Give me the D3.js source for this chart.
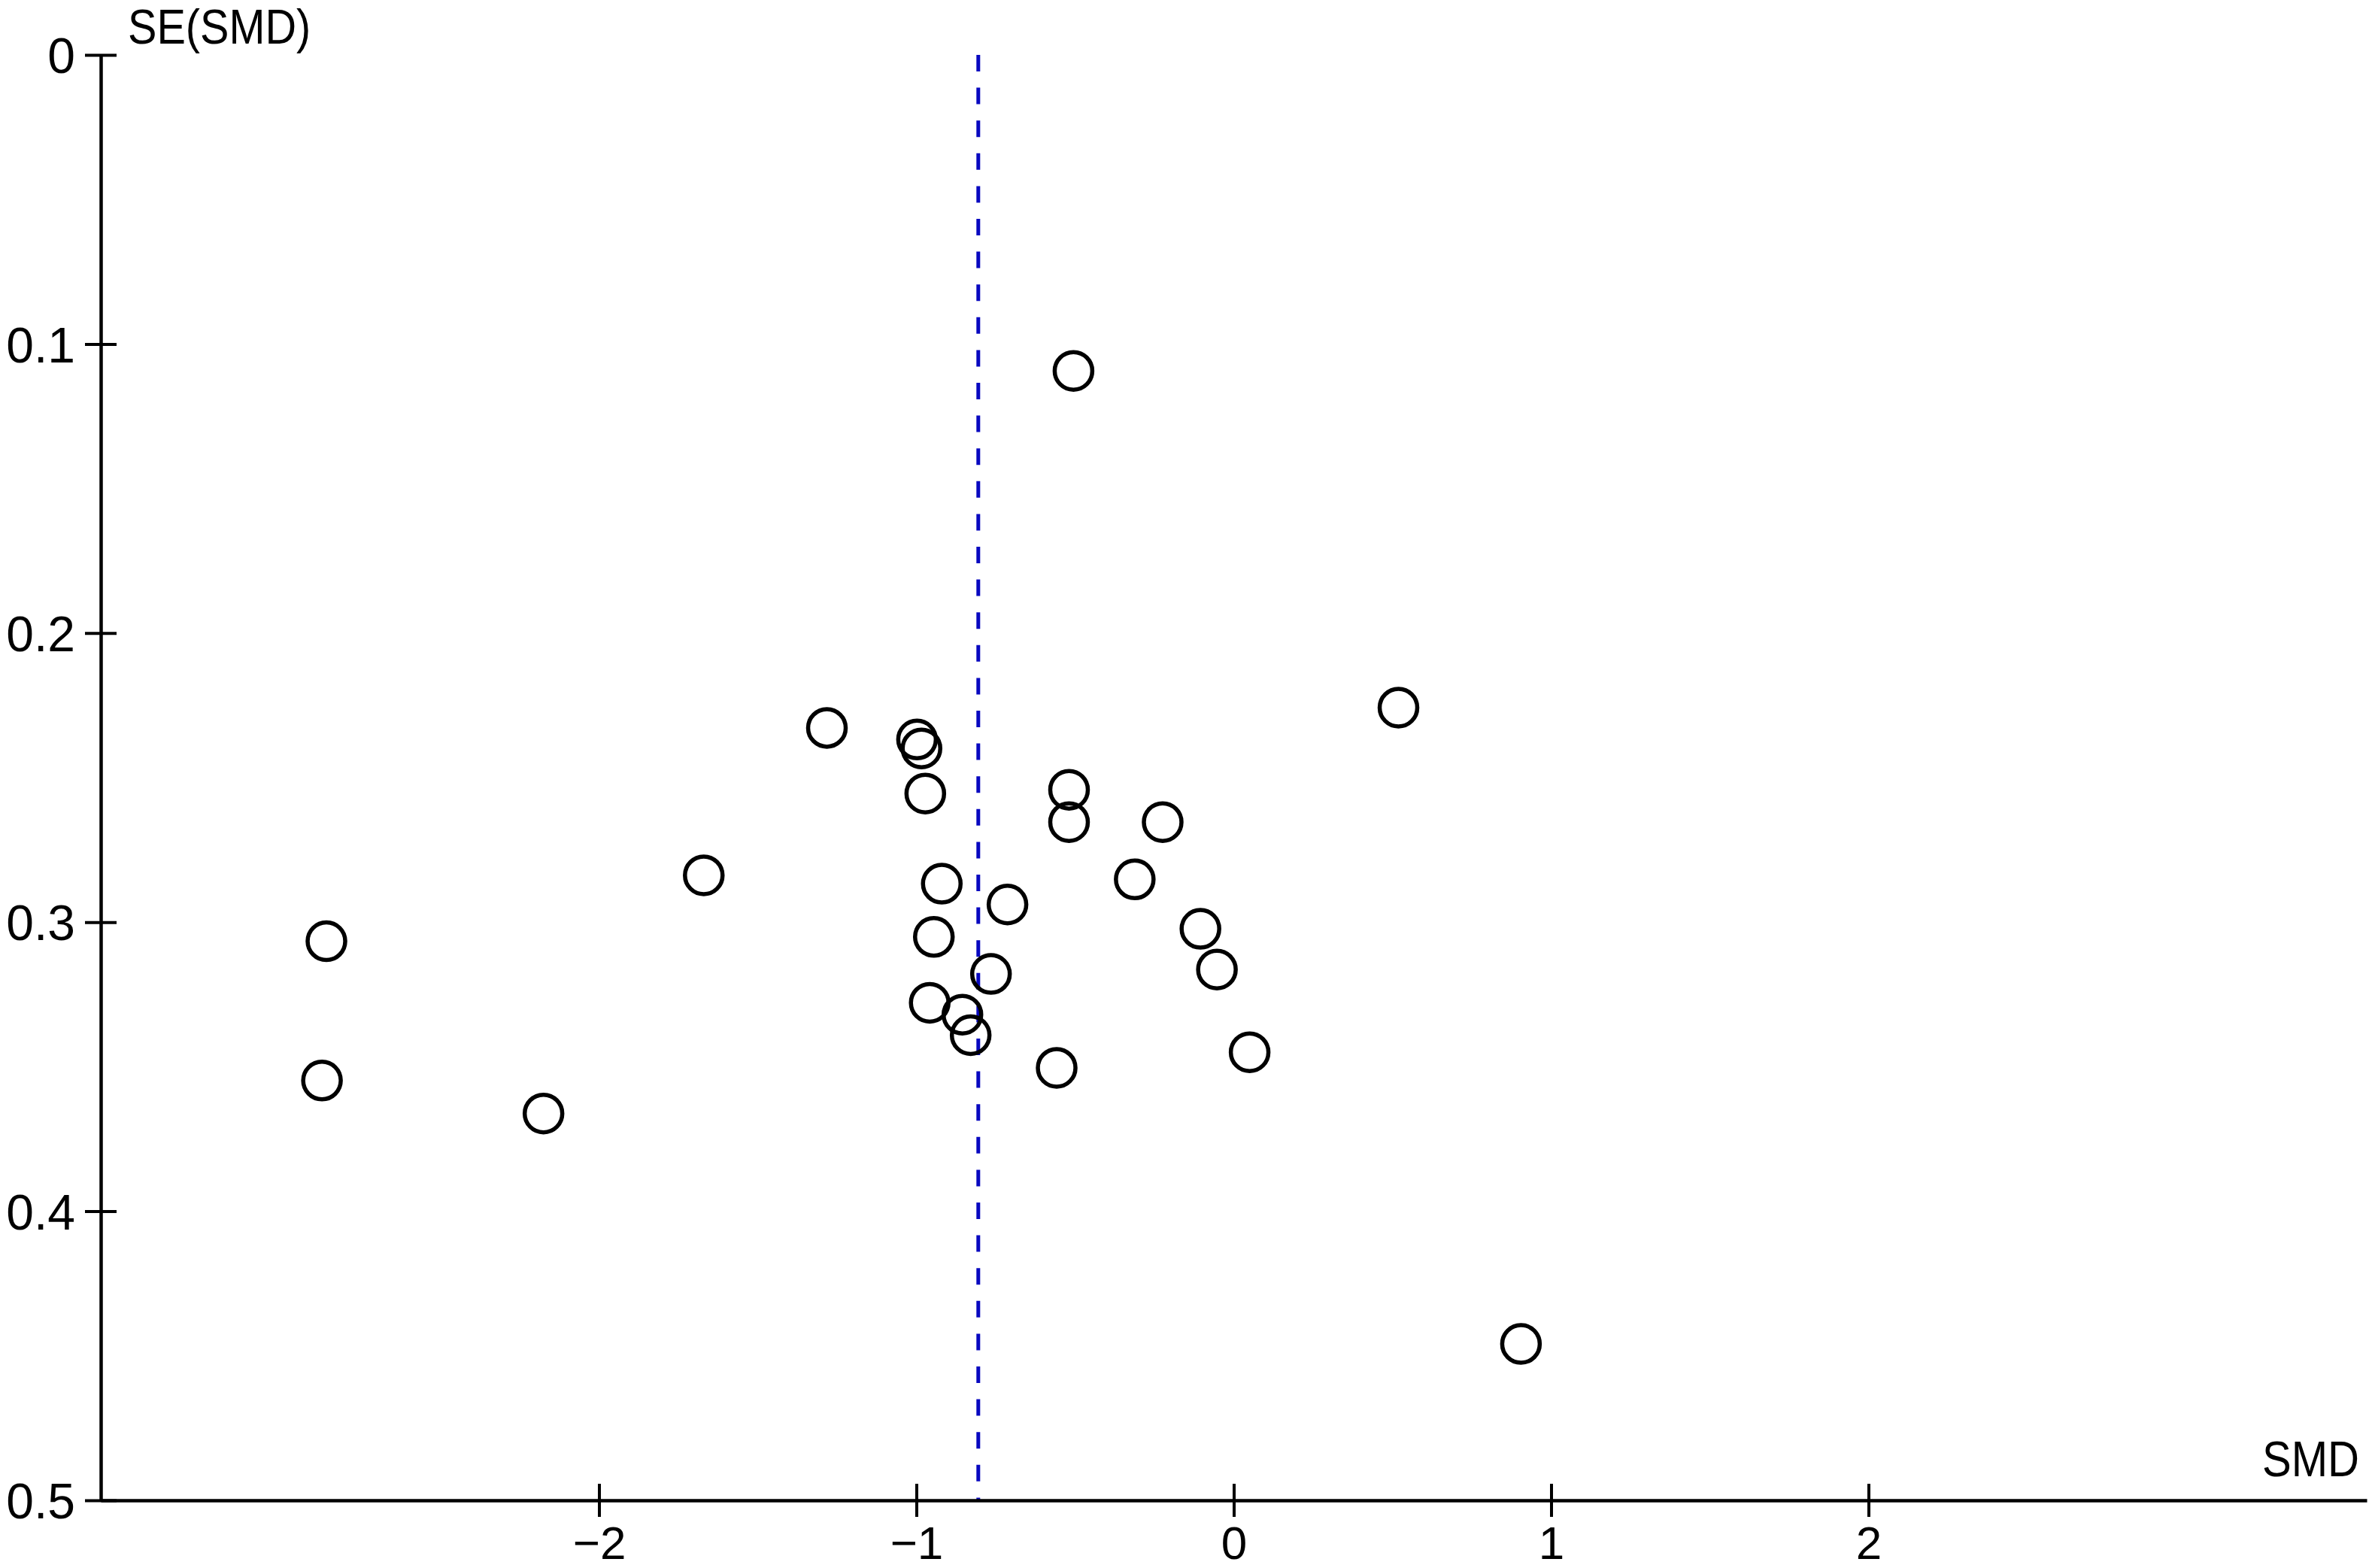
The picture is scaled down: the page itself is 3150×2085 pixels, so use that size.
<!DOCTYPE html>
<html>
<head>
<meta charset="utf-8">
<script src="https://cdn.jsdelivr.net/npm/d3@7"></script>
<style>
  html, body { margin: 0; padding: 0; background: #fff; }
  svg { display: block; }
  text { font-family: "Liberation Sans", Arial, sans-serif; fill: #000; }
</style>
</head>
<body>
<svg id="chart" width="3150" height="2085"></svg>
<script>
// Funnel plot data: standardized mean difference and its standard error
const smd = [-0.505, 0.519, 0.905, -1.282, -0.998, -0.984, -0.972, -0.519, -0.519, -0.224,
             -0.920, -0.312, -0.713, -0.945, -0.765, -0.958, -0.855, -0.829, -0.558, -0.105,
             -0.053, 0.050, -1.670, -2.859, -2.873, -2.175];
const seSmd = [0.1093, 0.2258, 0.4459, 0.2328, 0.2368, 0.2399, 0.2555, 0.2542, 0.2654, 0.2654,
               0.2867, 0.2852, 0.2939, 0.3051, 0.3179, 0.3279, 0.3320, 0.3391, 0.3504, 0.3023,
               0.3164, 0.3450, 0.2838, 0.3066, 0.3548, 0.3662];
const pooledSmd = -0.805;
const xTicks = [-2, -1, 0, 1, 2];
const xTickLabels = ["\u22122", "\u22121", "0", "1", "2"];
const yTicks = [0, 0.1, 0.2, 0.3, 0.4, 0.5];
const yTickLabels = ["0", "0.1", "0.2", "0.3", "0.4", "0.5"];
const xTitle = "SMD";
const yTitle = "SE(SMD)";

const svg = d3.select("#chart");
svg.append("rect").attr("width", 3150).attr("height", 2085).attr("fill", "#fff");

const x = d3.scaleLinear().domain([-3.57, 3.57]).range([134, 3147]);
const y = d3.scaleLinear().domain([0, 0.5]).range([73, 1995]);

// pooled estimate dashed line
svg.append("line")
  .attr("x1", x(pooledSmd)).attr("x2", x(pooledSmd))
  .attr("y1", y(0)).attr("y2", y(0.5))
  .attr("stroke", "#0808c0").attr("stroke-width", 5)
  .attr("stroke-dasharray", "22,21.6");

// Y axis
const yAxis = d3.axisLeft(y).tickValues(yTicks)
  .tickFormat((d, i) => yTickLabels[i]).tickSizeOuter(0);
const gy = svg.append("g").attr("transform", `translate(${x(-3.57)},0)`).call(yAxis);
gy.select(".domain").attr("stroke", "#000").attr("stroke-width", 4.5);
gy.selectAll(".tick line").attr("x1", -21).attr("x2", 21)
  .attr("stroke", "#000").attr("stroke-width", 4);
gy.selectAll(".tick text").attr("x", -34).attr("dy", "0.36em")
  .style("font-size", "66px").style("font-family", "Liberation Sans, Arial, sans-serif")
  .attr("fill", "#000");

// X axis
const xAxis = d3.axisBottom(x).tickValues(xTicks)
  .tickFormat((d, i) => xTickLabels[i]).tickSizeOuter(0);
const gx = svg.append("g").attr("transform", `translate(0,${y(0.5)})`).call(xAxis);
gx.select(".domain").attr("stroke", "#000").attr("stroke-width", 4.5);
gx.selectAll(".tick line").attr("y1", -22).attr("y2", 22)
  .attr("stroke", "#000").attr("stroke-width", 4);
gx.selectAll(".tick text").attr("y", 78).attr("dy", 0)
  .style("font-size", "62px").style("font-family", "Liberation Sans, Arial, sans-serif")
  .attr("fill", "#000");

// axis titles
svg.append("text").attr("transform", "translate(170,58) scale(0.9,1)")
  .style("font-size", "64px").text(yTitle);
svg.append("text").attr("transform", "translate(3008,1963) scale(0.88,1)")
  .style("font-size", "66px").text(xTitle);

// study points
svg.append("g").selectAll("circle")
  .data(smd.map((v, i) => ({ smd: v, se: seSmd[i] })))
  .join("circle")
  .attr("cx", d => x(d.smd))
  .attr("cy", d => y(d.se))
  .attr("r", 25)
  .attr("fill", "none")
  .attr("stroke", "#000")
  .attr("stroke-width", 5.5);
</script>
</body>
</html>
